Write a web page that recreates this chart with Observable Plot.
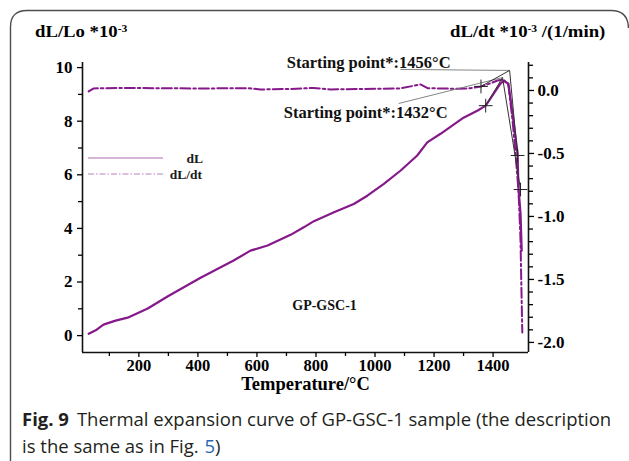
<!DOCTYPE html>
<html>
<head>
<meta charset="utf-8">
<script src="https://cdn.jsdelivr.net/npm/d3@7"></script>
<script src="https://cdn.jsdelivr.net/npm/@observablehq/plot@0.6"></script>
<style>
  html, body { margin: 0; padding: 0; background: #fff; }
  body { width: 629px; height: 461px; overflow: hidden; position: relative; }
  #chart { position: absolute; left: 0; top: 0; }
  .serif { font-family: "Liberation Serif", "Times New Roman", serif; font-weight: bold; color: #000; }
  .title { position: absolute; font-size: 16px; white-space: nowrap; transform: scaleX(1.17); transform-origin: left bottom; line-height: 1; }
  .title sup { font-size: 0.62em; vertical-align: 0.5em; line-height: 0; }
  .cap { position: absolute; left: 22px; font-family: "Open Sans", sans-serif; font-size: 18.5px; line-height: 27px; color: #231f20; white-space: nowrap; }
  .cap b { font-weight: 700; margin-right: 8px; }
  .cap .ref { color: #2767b5; margin-left: 1px; }
  svg.overlay { position: absolute; left: 0; top: 0; pointer-events: none; }
</style>
</head>
<body>
<svg class="overlay" width="629" height="461">
  <path d="M10.5,461 L10.5,27 Q10.5,10.5 27,10.5 L611,10.5 Q628,10.5 628.5,28" fill="none" stroke="#4d4d4d" stroke-width="1.4"/>
</svg>
<div id="chart"></div>
<div class="title serif" id="t1" style="left:35px; top:24px;">dL/Lo *10<sup>-3</sup></div>
<div class="title serif" id="t2" style="left:450px; top:24px;">dL/dt *10<sup>-3</sup> /(1/min)</div>
<svg class="overlay" width="629" height="461" id="legend">
  <line x1="88" y1="158" x2="163" y2="158" stroke="#c79bcb" stroke-width="1.5"/>
  <line x1="88" y1="174" x2="163" y2="174" stroke="#d3abd6" stroke-width="1.3" stroke-dasharray="6,2,1.5,2"/>
  <text x="203" y="162.5" text-anchor="end" font-family="Liberation Serif, serif" font-weight="bold" font-size="13.5" fill="#1a1a1a">dL</text>
  <text x="202" y="178.5" text-anchor="end" font-family="Liberation Serif, serif" font-weight="bold" font-size="13.5" fill="#1a1a1a">dL/dt</text>
</svg>
<div class="cap" style="top:405px;"><b>Fig. 9</b>Thermal expansion curve of GP-GSC-1 sample (the description</div>
<div class="cap" style="top:432px;">is the same as in Fig. <span class="ref">5</span>)</div>
<script>
// ---- data ----
// dL/Lo (*10^-3), left axis
const dlTemp  = [30, 57, 80, 121, 162, 230, 297, 409, 521, 578, 636, 714, 760, 793, 861, 928, 974, 1030, 1087, 1143, 1177, 1222, 1300, 1348, 1375, 1402, 1425, 1436, 1452, 1469, 1483, 1486, 1493, 1497];
const dlValue = [0.07, 0.22, 0.41, 0.56, 0.67, 1.01, 1.46, 2.16, 2.80, 3.17, 3.36, 3.76, 4.05, 4.27, 4.60, 4.91, 5.22, 5.66, 6.16, 6.72, 7.21, 7.53, 8.13, 8.40, 8.58, 9.03, 9.40, 9.51, 9.40, 8.02, 6.79, 5.52, 4.55, 3.17];
// dL/dt (*10^-3 /(1/min)), right axis
const dtTemp  = [30, 47, 138, 409, 568, 612, 714, 792, 849, 1086, 1154, 1178, 1280, 1324, 1359, 1391, 1415, 1436, 1452, 1466, 1476, 1486, 1490, 1493, 1495, 1499];
const dtValue = [-0.008, 0.016, 0.020, 0.016, 0.018, 0.008, 0.012, 0.020, 0.008, 0.016, 0.048, 0.018, 0.013, 0.018, 0.032, 0.056, 0.079, 0.087, 0.040, -0.238, -0.500, -0.794, -1.008, -1.190, -1.452, -1.921];

// onset construction (tangent markers and intersection points)
const dtMarkTemp = [1359, 1483];
const dtMarkValue = [0.032, -0.516];
const dlMarkTemp = [1375, 1493];
const dlMarkValue = [8.58, 5.45];
const onsetTemp = [1456, 1432];        // dL/dt onset, dL onset
const onsetValue = [0.159, 9.63];      // right-axis value, left-axis value
const labelText = ["Starting point*:1456°C", "Starting point*:1432°C"];
const leaderTemp = [1086, 1080];
const leaderValue = [0.167, 8.66];
const labelEndTemp = [1256, 1246];
const labelValue = [10.19, 8.32];      // on left axis

const sampleName = "GP-GSC-1";
const sampleTemp = 829, sampleValue = 1.12;

// axes
const xDomain = [9, 1520];
const yDomain = [-0.63, 10.19];
const y2Domain = [-2.08, 0.222];
const xMajor = [200, 400, 600, 800, 1000, 1200, 1400];
const xMinor = [100, 300, 500, 700, 900, 1100, 1300];
const yMajor = [0, 2, 4, 6, 8, 10];
const yMinor = [1, 3, 5, 7, 9];
const y2Major = [0, -0.5, -1.0, -1.5, -2.0];
const y2Minor = [0.2, 0.1, -0.1, -0.2, -0.3, -0.4, -0.6, -0.7, -0.8, -0.9, -1.1, -1.2, -1.3, -1.4, -1.6, -1.7, -1.8, -1.9];

const toLeft = d3.scaleLinear(y2Domain, yDomain);
const fmtRight = d => (Math.round(toLeft.invert(d) * 10) / 10).toFixed(1);

const purple = "#86198a";
const dlData = dlTemp.map((t, i) => ({t, v: dlValue[i]}));
const dtData = dtTemp.map((t, i) => ({t, v: toLeft(dtValue[i])}));
const marks = [
  ...dtMarkTemp.map((t, i) => ({t, v: toLeft(dtMarkValue[i])})),
  ...dlMarkTemp.map((t, i) => ({t, v: dlMarkValue[i]}))
];
const onsetDt = {t: onsetTemp[0], v: toLeft(onsetValue[0])};
const onsetDl = {t: onsetTemp[1], v: onsetValue[1]};
const tangents = [
  [marks[0], onsetDt], [onsetDt, marks[1]],
  [marks[2], onsetDl], [onsetDl, marks[3]]
].map(([a, b]) => ({x1: a.t, y1: a.v, x2: b.t, y2: b.v}));
const leaders = [
  {x1: leaderTemp[0], y1: toLeft(leaderValue[0]), x2: onsetDt.t, y2: onsetDt.v},
  {x1: leaderTemp[1], y1: leaderValue[1], x2: onsetDl.t, y2: onsetDl.v}
];
const labels = labelText.map((s, i) => ({s, t: labelEndTemp[i], v: labelValue[i]}));

const serif = '"Liberation Serif", "Times New Roman", serif';
const chart = Plot.plot({
  width: 629,
  height: 400,
  marginLeft: 82,
  marginRight: 101,
  marginTop: 62,
  marginBottom: 48,
  x: {domain: xDomain},
  y: {domain: yDomain},
  style: {fontFamily: serif, fontSize: "17px", fontWeight: "bold", color: "#000", background: "transparent", overflow: "visible"},
  marks: [
    Plot.ruleX([xDomain[0], xDomain[1]], {stroke: "#111", strokeWidth: 1.6}),
    Plot.ruleY([yDomain[0]], {stroke: "#111", strokeWidth: 1.6}),
    Plot.axisY(yMajor, {anchor: "left", tickSize: 5, tickPadding: 5, strokeWidth: 1.3, tickFormat: d => String(d), label: null}),
    Plot.axisY(yMinor, {anchor: "left", tickSize: 4, strokeWidth: 1.3, tickFormat: () => "", label: null}),
    Plot.axisY(y2Major.map(toLeft), {anchor: "right", tickSize: 5, tickPadding: 4, strokeWidth: 1.3, tickFormat: fmtRight, label: null}),
    Plot.axisY(y2Minor.map(toLeft), {anchor: "right", tickSize: 4, strokeWidth: 1.3, tickFormat: () => "", label: null}),
    Plot.axisX(xMajor, {anchor: "bottom", tickSize: 5, tickPadding: 2, strokeWidth: 1.3, fontSize: 16.5, tickFormat: d => String(d), label: null}),
    Plot.axisX(xMinor, {anchor: "bottom", tickSize: 4, strokeWidth: 1.3, tickFormat: () => "", label: null}),
    Plot.text(["Temperature/°C"], {frameAnchor: "bottom", dy: 37, fontSize: 18.5, fill: "#000"}),
    Plot.line(dtData, {x: "t", y: "v", stroke: purple, strokeWidth: 2, strokeDasharray: "10,3,2.5,3"}),
    Plot.line(dlData, {x: "t", y: "v", stroke: purple, strokeWidth: 2.2}),
    Plot.link(leaders, {x1: "x1", y1: "y1", x2: "x2", y2: "y2", stroke: "#777", strokeWidth: 0.9}),
    Plot.link(tangents, {x1: "x1", y1: "y1", x2: "x2", y2: "y2", stroke: "#333", strokeWidth: 1}),
    Plot.dot(marks, {x: "t", y: "v", symbol: "plus", r: 4.5, stroke: "#222", strokeWidth: 1}),
    Plot.text(labels, {x: "t", y: "v", text: "s", textAnchor: "end", fontSize: 16.5, fill: "#111"}),
    Plot.text([sampleName], {x: () => sampleTemp, y: () => sampleValue, fontSize: 14, fill: "#111"})
  ]
});
document.getElementById("chart").appendChild(chart);
</script>
</body>
</html>
